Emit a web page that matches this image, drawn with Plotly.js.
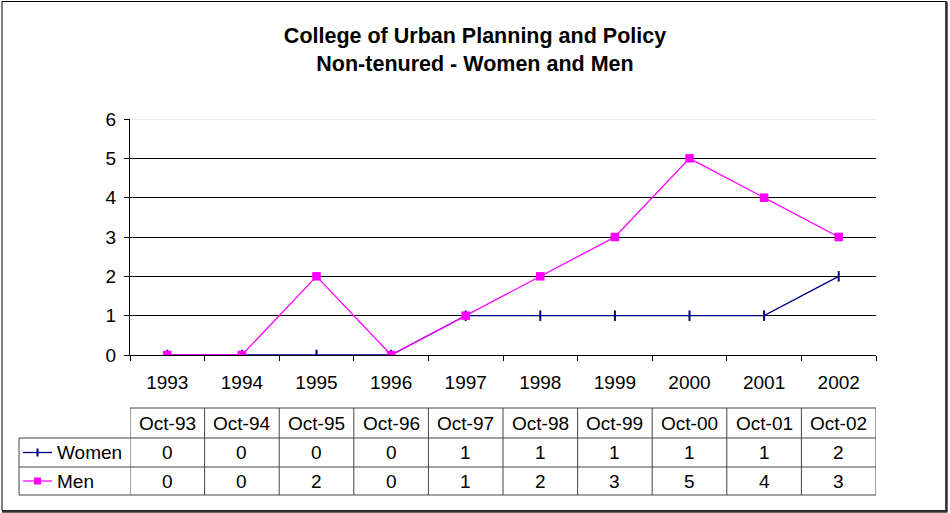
<!DOCTYPE html>
<html>
<head>
<meta charset="utf-8">
<script src="https://cdn.plot.ly/plotly-3.0.1.min.js"></script>
<style>html,body{margin:0;padding:0;background:#fff;}#chart{width:950px;height:513px;}</style>
</head>
<body>
<div id="chart"></div>
<script>
// ---- data ----
const years = ["1993","1994","1995","1996","1997","1998","1999","2000","2001","2002"];
const tableHeaders = ["Oct-93","Oct-94","Oct-95","Oct-96","Oct-97","Oct-98","Oct-99","Oct-00","Oct-01","Oct-02"];
const women = [0,0,0,0,1,1,1,1,1,2];
const men = [0,0,2,0,1,2,3,5,4,3];
const seriesNames = ["Women","Men"];

// ---- layout helpers (pixel -> paper) ----
const W = 950, H = 513;
const L = 130, R = 876, T = 119, B = 355;
const px = x => (x - L) / (R - L);
const py = y => (B - y) / (B - T);
const FONT = "Liberation Sans, Arial, sans-serif";
const navy = "#000080", magenta = "#FF00FF";

const traces = [
  {x: years, y: women, name: seriesNames[0], type: "scatter", mode: "lines+markers",
   line: {color: navy, width: 1.3}, marker: {symbol: "line-ns", size: 7.5, line: {color: navy, width: 2}, color: navy}},
  {x: years, y: men, name: seriesNames[1], type: "scatter", mode: "lines+markers",
   line: {color: magenta, width: 1.3}, marker: {symbol: "square", size: 8.5, color: magenta, line: {width: 0}}}
];

const shapes = [];
const annotations = [];
const tableLine = {color: "#444", width: 1};

// table geometry (pixels)
const hdrTop = 408, row1Top = 438, row2Top = 467, tblBot = 495, legLeft = 19;
const n = years.length;
// horizontal lines
shapes.push({type: "line", xref: "x", yref: "paper", x0: -0.5, x1: n - 0.5, y0: py(hdrTop), y1: py(hdrTop), line: tableLine});
[row1Top, row2Top, tblBot].forEach(yy => shapes.push({type: "line", xref: "paper", yref: "paper",
  x0: px(legLeft), x1: 1, y0: py(yy), y1: py(yy), line: tableLine}));
// vertical lines
for (let i = 0; i <= n; i++) {
  shapes.push({type: "line", xref: "x", yref: "paper", x0: i - 0.5, x1: i - 0.5, y0: py(hdrTop), y1: py(tblBot), line: tableLine});
}
shapes.push({type: "line", xref: "paper", yref: "paper", x0: px(legLeft), x1: px(legLeft), y0: py(row1Top), y1: py(tblBot), line: tableLine});

// cell text
const cellFont = {family: FONT, size: 19, color: "#000"};
const rowsY = [(hdrTop + row1Top) / 2, (row1Top + row2Top) / 2, (row2Top + tblBot) / 2];
years.forEach((yr, i) => {
  annotations.push({xref: "x", yref: "paper", x: i, y: py(rowsY[0]), text: tableHeaders[i], showarrow: false, font: cellFont, xanchor: "center", yanchor: "middle"});
  annotations.push({xref: "x", yref: "paper", x: i, y: py(rowsY[1]), text: String(women[i]), showarrow: false, font: cellFont, xanchor: "center", yanchor: "middle"});
  annotations.push({xref: "x", yref: "paper", x: i, y: py(rowsY[2]), text: String(men[i]), showarrow: false, font: cellFont, xanchor: "center", yanchor: "middle"});
});
// legend keys in table
[[navy, rowsY[1], seriesNames[0]], [magenta, rowsY[2], seriesNames[1]]].forEach(([c, yy, name], k) => {
  shapes.push({type: "line", xref: "paper", yref: "paper", x0: px(23), x1: px(52), y0: py(yy), y1: py(yy), line: {color: c, width: 1.3}});
  if (k === 0) {
    shapes.push({type: "line", xref: "paper", yref: "paper", x0: px(37.5), x1: px(37.5), y0: py(yy - 4), y1: py(yy + 4), line: {color: c, width: 2}});
  } else {
    shapes.push({type: "rect", xref: "paper", yref: "paper", x0: px(34), x1: px(41), y0: py(yy - 3.5), y1: py(yy + 3.5), line: {width: 0}, fillcolor: c});
  }
  annotations.push({xref: "paper", yref: "paper", x: px(55), y: py(yy), text: name, showarrow: false, font: cellFont, xanchor: "left", yanchor: "middle"});
});

// light top gridline at 6
shapes.push({type: "line", xref: "paper", yref: "y", x0: 0, x1: 1, y0: 6, y1: 6, layer: "above", line: {color: "#dcdcdc", width: 1}});

// outer chart border
shapes.push({type: "rect", xref: "paper", yref: "paper", x0: px(2), x1: px(946), y0: py(1.5), y1: py(510.5), line: {color: "#000", width: 1}});
shapes.push({type: "line", xref: "paper", yref: "paper", x0: px(946.5), x1: px(946.5), y0: py(1.5), y1: py(511.5), line: {color: "#333", width: 2.5}});
shapes.push({type: "line", xref: "paper", yref: "paper", x0: px(2), x1: px(947.5), y0: py(511.5), y1: py(511.5), line: {color: "#333", width: 2.5}});

const layout = {
  width: W, height: H,
  margin: {l: L, r: W - R, t: T, b: H - B, pad: 0},
  paper_bgcolor: "#fff", plot_bgcolor: "#fff",
  showlegend: false,
  title: {text: "<b>College of Urban Planning and Policy<br>Non-tenured - Women and Men</b>",
          font: {family: FONT, size: 21.5, color: "#000"}, x: 0.5, xanchor: "center", y: 1 - 43 / H, yanchor: "middle"},
  xaxis: {type: "category", range: [-0.5, n - 0.5], showline: true, linecolor: "#000", linewidth: 1,
          ticks: "outside", tickson: "boundaries", ticklen: 5, tickcolor: "#000", showgrid: false, zeroline: false,
          ticklabelstandoff: 10,
          tickfont: {family: FONT, size: 19, color: "#000"}, fixedrange: true},
  yaxis: {range: [0, 6], dtick: 1, tick0: 0, showline: true, linecolor: "#000", linewidth: 1,
          ticks: "outside", ticklen: 5, tickcolor: "#000", showgrid: true, gridcolor: "#000", gridwidth: 1,
          ticklabelstandoff: 4,
          zeroline: false, tickfont: {family: FONT, size: 19, color: "#000"}, fixedrange: true},
  shapes: shapes,
  annotations: annotations
};

Plotly.newPlot("chart", traces, layout, {displayModeBar: false, staticPlot: true});
</script>
</body>
</html>
